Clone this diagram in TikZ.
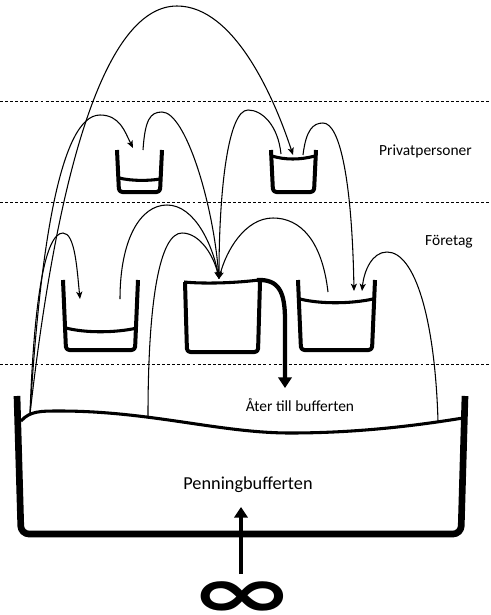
\documentclass[tikz,border=0pt]{standalone}
\usepackage{fontspec}
\setmainfont{Carlito}
\newfontfamily\symfont{DejaVu Sans}
\usetikzlibrary{arrows.meta}
\newcommand\drawcup[5]{%
  \draw[cupwall] (#1,#3) -- (#1+#5,#4) -- (#2-#5,#4) -- (#2,#3);}
\begin{document}
\begin{tikzpicture}[x=0.75pt,y=-0.75pt,
  dline/.style={dash pattern=on 2.2pt off 1.6pt, line width=0.6pt},
  flow/.style={line width=0.8pt, -{Stealth[length=5.5pt,width=4.6pt,inset=1.4pt]}},
  cupwall/.style={line width=3pt, line join=round, line cap=butt, rounded corners=2.5pt},
  water/.style={line width=2.3pt},
  bufwall/.style={line width=5pt, line join=round, rounded corners=6pt},
  bigflow/.style={line width=3.5pt, -{Triangle[length=8pt,width=10pt]}},
  lbl/.style={font=\fontsize{11.6}{13}\selectfont, inner sep=0pt},
  biglbl/.style={font=\fontsize{13.7}{16}\selectfont, inner sep=0pt}]
\useasboundingbox (0,0) rectangle (490,615);

% separators
\draw[dline] (0,101) -- (490,101);
\draw[dline] (0,202) -- (490,202);
\draw[dline] (0,364) -- (490,364);

% labels
\node[lbl, anchor=east] (priv) at (472,151) {Privatpersoner};
\node[lbl, anchor=east] (foretag) at (473,242) {Företag};
\node[lbl] (ater) at (300,405) {Åter till bufferten};
\node[biglbl] (penning) at (248,485) {Penningbufferten};
\node[inner sep=0pt, anchor=base, xscale=1.36, yscale=0.76, text depth=0pt] (inf) at (242,608)
  {\symfont\bfseries\fontsize{70}{80}\selectfont\raisebox{-9pt}{∞}};

% buffer
\draw[bufwall] (17,396) -- (21,534) -- (461,534) -- (465,396);
\draw[water] (21,421) .. controls (30,411) and (40,411) .. (60,411)
  .. controls (150,411) and (220,433) .. (290,433)
  .. controls (360,433) and (420,425) .. (463,418);

% cups: private persons
\drawcup{117}{162}{150}{192}{2}
\draw[water] (119,178) .. controls (132,181) and (148,181) .. (160,179);
\drawcup{271}{316}{150}{192}{2}
\draw[water] (272,156) .. controls (285,160) and (300,160) .. (315,156);

% cups: companies
\drawcup{63}{138}{280}{350}{3}
\draw[water] (66,328) .. controls (85,333) and (115,333) .. (137,328);
\drawcup{185}{260}{282}{352}{2}
\draw[water] (184,282) .. controls (205,284) and (235,283) .. (259,280);
\drawcup{298}{375}{280}{350}{3}
\draw[water] (300,299) .. controls (320,304) and (350,304) .. (373,299);

% coordinates
\coordinate (bufA) at (30,414);
\coordinate (bufB) at (148,416);
\coordinate (bufC) at (438,421);
\coordinate (pkBig) at (177,6);
\coordinate (pkP1) at (100,115);
\coordinate (pkF1) at (63,233);
\coordinate (p1out) at (143,150);
\coordinate (pkP1F2) at (162,112);
\coordinate (p2outL) at (281,154);
\coordinate (pkP2F2) at (248,110);
\coordinate (p2outR) at (303,155);
\coordinate (pkP2F3) at (323,123);
\coordinate (f1out) at (120,299);
\coordinate (pkF1F2) at (167,205);
\coordinate (pkBF2) at (182,233);
\coordinate (f3out) at (328,292);
\coordinate (pkF3F2) at (273,218);
\coordinate (pkBF3) at (387,252);
\coordinate (p1in) at (133,148);
\coordinate (p2in) at (293,155);
\coordinate (f1in) at (80,299);
\coordinate (f2in) at (219,279);
\coordinate (f3inA) at (354,291);
\coordinate (f3inB) at (362,291);

% flows
\draw[flow] (bufA) .. controls +(30,-265) and +(-67,0) .. (pkBig)
  .. controls +(58,0) and +(-18,-55) .. (p2in);
\draw[flow] (bufA) .. controls +(10,-164) and +(-40,0) .. (pkP1)
  .. controls +(20,0) and +(-8,-16) .. (p1in);
\draw[flow] (bufA) .. controls +(4,-114) and +(-18,0) .. (pkF1)
  .. controls +(12,0) and +(-3,-30) .. (f1in);
\draw[flow] (p1out) .. controls +(2,-30) and +(-12,0) .. (pkP1F2)
  .. controls +(23,0) and +(-6,-78) .. (f2in);
\draw[flow] (p2outL) .. controls +(-3,-29) and +(14,0) .. (pkP2F2)
  .. controls +(-20,0) and +(0,-88) .. (f2in);
\draw[flow] (p2outR) .. controls +(3,-25) and +(-10,0) .. (pkP2F3)
  .. controls +(17,0) and +(-2,-110) .. (f3inA);
\draw[flow] (f1out) .. controls +(0,-59) and +(-27,0) .. (pkF1F2)
  .. controls +(28,0) and +(-6,-33) .. (f2in);
\draw[flow] (bufB) .. controls +(0,-117) and +(-22,0) .. (pkBF2)
  .. controls +(18,0) and +(-5,-23) .. (f2in);
\draw[flow] (f3out) .. controls +(-6,-52) and +(27,0) .. (pkF3F2)
  .. controls +(-28,0) and +(7,-28) .. (f2in);
\draw[flow] (bufC) .. controls +(-3,-102) and +(28,0) .. (pkBF3)
  .. controls +(-15,0) and +(2,-20) .. (f3inB);

% overflow back to buffer
\coordinate (ovS) at (257,280);
\coordinate (ovE) at (285,388);
\draw[bigflow, line width=3.2pt] (ovS) .. controls (279,279) and (285,292) .. (285,320) -- (ovE);

% infinity supply
\coordinate (infTop) at (241,574);
\coordinate (bufIn) at (241,507);
\draw[bigflow] (infTop) -- (bufIn);
\end{tikzpicture}
\end{document}
